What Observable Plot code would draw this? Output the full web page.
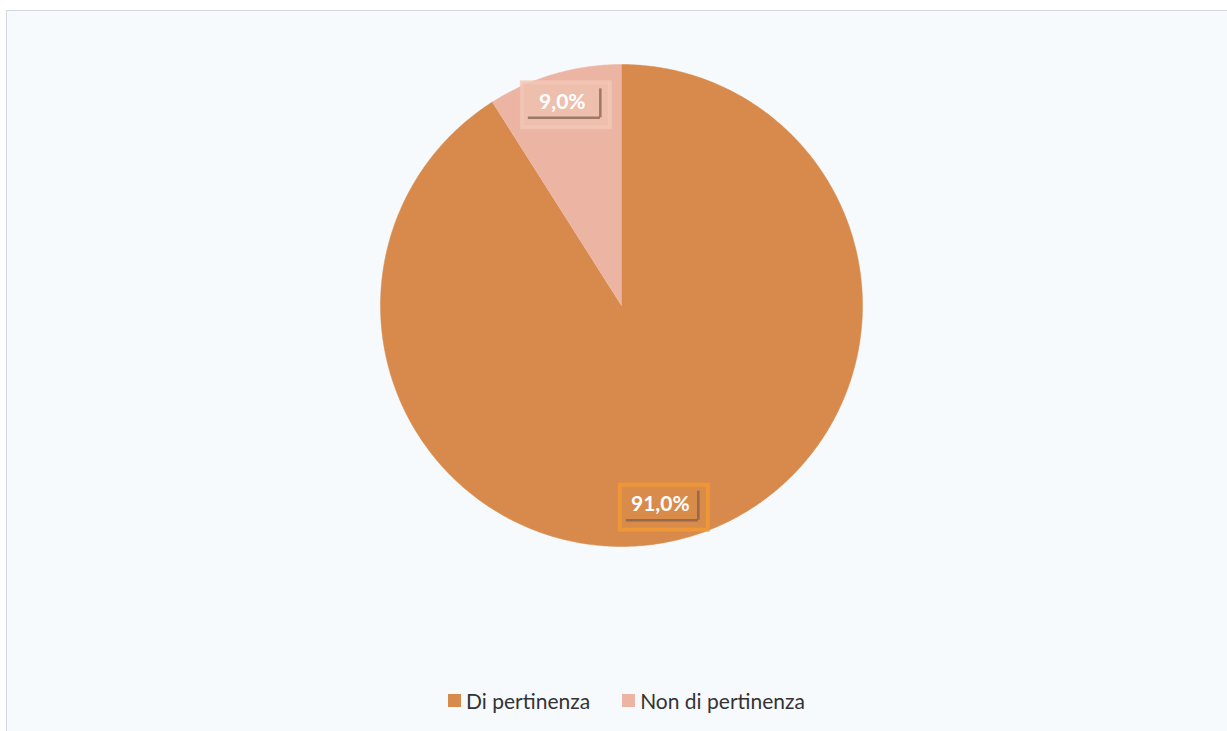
<!DOCTYPE html>
<html><head><meta charset="utf-8">
<script src="https://cdn.jsdelivr.net/npm/d3@7"></script>
<script src="https://cdn.jsdelivr.net/npm/@observablehq/plot@0.6"></script>
<style>
html,body{margin:0;padding:0;background:#fff;width:1227px;height:731px;overflow:hidden}
#frame{position:absolute;left:6px;top:10px;width:1230px;height:730px;border-left:1px solid #d5d9df;border-top:1px solid #d5d9df;background:#f7fafd;font-family:Lato,"Open Sans",sans-serif}
#legend{position:absolute;left:9px;top:677px;width:1221px;display:flex;justify-content:center;gap:32px;font-size:21px;color:#333}
#legend span.it{display:flex;align-items:center}
#legend i{display:inline-block;width:13px;height:13px;margin-right:5px}
</style></head><body>
<div id="frame"><div id="chart"></div><div id="legend"></div></div>
<script>
const categories = ["Di pertinenza", "Non di pertinenza"];
const values = [91.0, 9.0];
const labels = ["91,0%", "9,0%"];
const colors = ["#d78a4b", "#ecb4a2"];

const pie = d3.pie().sort(null).value(d => d.value)(categories.map((c, i) => ({cat: c, value: values[i], label: labels[i]})));
const poly = [];
for (const s of pie) {
  poly.push({cat: s.data.cat, x: 0, y: 0});
  const n = Math.max(2, Math.ceil((s.endAngle - s.startAngle) / 0.01));
  for (let k = 0; k <= n; k++) {
    const a = s.startAngle + (s.endAngle - s.startAngle) * k / n;
    poly.push({cat: s.data.cat, x: Math.sin(a), y: Math.cos(a)});
  }
}
const lr = [0.84, 0.88];
const lab = pie.map((s, i) => {
  const a = (s.startAngle + s.endAngle) / 2 + (i === 0 ? 0.09 : 0);
  return {cat: s.data.cat, label: s.data.label, x: lr[i] * Math.sin(a), y: lr[i] * Math.cos(a), i};
});
const boxFill = ["#d98b4a", "#efbfae"];
const boxStroke = ["#f39a33", "#f3c7b7"];
const cx = 614, cy = 294, R = 241;
const chart = Plot.plot({
  width: 1221, height: 668, margin: 0,
  x: {domain: [-1, 1], range: [cx - R, cx + R], axis: null},
  y: {domain: [-1, 1], range: [cy + R, cy - R], axis: null},
  color: {domain: categories, range: colors},
  marks: [
    Plot.line(poly, {x: "x", y: "y", z: "cat", fill: "cat", stroke: "cat", strokeWidth: 0.5, curve: "linear"}),
    Plot.rect(lab, {x1: "x", x2: "x", y1: "y", y2: "y", insetLeft: -40, insetRight: -48, insetTop: -19, insetBottom: -26, fill: (d) => boxFill[d.i], stroke: (d) => boxStroke[d.i], strokeWidth: 4, strokeOpacity: 0.8}),
    Plot.ruleY(lab, {y: "y", x1: "x", x2: "x", dy: 16, insetLeft: -34, insetRight: -38, stroke: "#7a5a48", strokeWidth: 2.5, strokeOpacity: 0.7}),
    Plot.ruleX(lab, {x: "x", y1: "y", y2: "y", dx: 38, insetTop: -13, insetBottom: -16, stroke: "#7a5a48", strokeWidth: 2.5, strokeOpacity: 0.7}),
    Plot.text(lab, {x: "x", y: "y", text: "label", fill: "white", fontSize: 21, fontWeight: "bold", fontFamily: "Lato, 'Open Sans', sans-serif"})
  ]
});
document.getElementById("chart").appendChild(chart);
const leg = document.getElementById("legend");
categories.forEach((c, i) => {
  const s = document.createElement("span"); s.className = "it";
  s.innerHTML = `<i style="background:${colors[i]}"></i>${c}`;
  leg.appendChild(s);
});
</script></body></html>
